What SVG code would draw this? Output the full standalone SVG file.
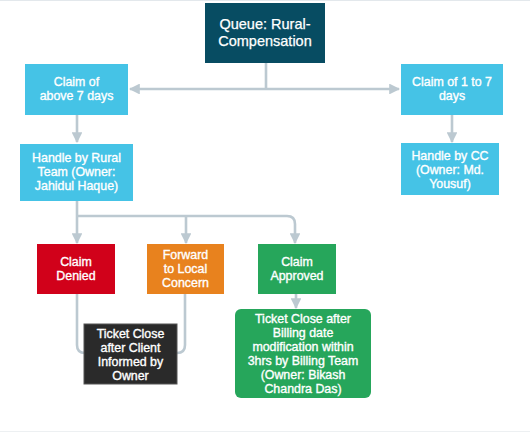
<svg xmlns="http://www.w3.org/2000/svg" width="530" height="433" viewBox="0 0 530 433">
<style>
.t{font-family:"Liberation Sans",Arial,sans-serif;font-size:12.4px;fill:#fff;stroke:#fff;stroke-width:0.35;text-anchor:middle}
.c{fill:none;stroke:#BCC9D1;stroke-width:2.6}
.cyan{fill:#45C3E6}
</style>
<defs>
<marker id="ah" viewBox="0 0 10 10" refX="9" refY="5" markerWidth="4.2" markerHeight="4.2" orient="auto" markerUnits="strokeWidth">
<path d="M0,0 L10,5 L0,10 z" fill="#BCC9D1"/>
</marker>
</defs>
<rect width="530" height="433" fill="#fff"/>
<line x1="0" y1="0.5" x2="530" y2="0.5" stroke="#E3E8EC"/>
<line x1="0" y1="431.5" x2="530" y2="431.5" stroke="#EDF0F2"/>
<g id="connectors">
<path class="c" d="M266,63 V89"/>
<path class="c" d="M266,89 H130" marker-end="url(#ah)"/>
<path class="c" d="M266,89 H399" marker-end="url(#ah)"/>
<path class="c" d="M77,115 V142" marker-end="url(#ah)"/>
<path class="c" d="M452,115 V142" marker-end="url(#ah)"/>
<path class="c" d="M77,201 V243" marker-end="url(#ah)"/>
<path class="c" d="M77,216 H287 Q295,216 295,224 V243" marker-end="url(#ah)"/>
<path class="c" d="M186,216 V243" marker-end="url(#ah)"/>
<path class="c" d="M77,294 V345 Q77,353 85,353"/>
<path class="c" d="M185,294 V345 Q185,353 177,353"/>
<path class="c" d="M296,294 V308" marker-end="url(#ah)"/>
</g>
<g id="queue">
<rect x="205" y="3" width="120" height="60" fill="#074C62"/>
<text class="t" style="font-size:14.5px;stroke-width:0.25"><tspan x="265" y="29">Queue: Rural-</tspan><tspan x="265" y="46">Compensation</tspan></text>
</g>
<g id="claim-above">
<rect class="cyan" x="25" y="64" width="103" height="51"/>
<text class="t"><tspan x="76.5" y="86">Claim of</tspan><tspan x="76.5" y="100">above 7 days</tspan></text>
</g>
<g id="claim-1-7">
<rect class="cyan" x="401" y="64" width="102" height="51"/>
<text class="t"><tspan x="452" y="86">Claim of 1 to 7</tspan><tspan x="452" y="100">days</tspan></text>
</g>
<g id="handle-rural">
<rect class="cyan" x="20" y="144" width="113" height="57"/>
<text class="t"><tspan x="76.5" y="162">Handle by Rural</tspan><tspan x="76.5" y="176">Team (Owner:</tspan><tspan x="76.5" y="190">Jahidul Haque)</tspan></text>
</g>
<g id="handle-cc">
<rect class="cyan" x="401" y="143" width="98" height="52"/>
<text class="t"><tspan x="450" y="160">Handle by CC</tspan><tspan x="450" y="174">(Owner: Md.</tspan><tspan x="450" y="188">Yousuf)</tspan></text>
</g>
<g id="denied">
<rect x="37" y="244" width="78" height="50" fill="#D1011A"/>
<text class="t"><tspan x="76" y="266">Claim</tspan><tspan x="76" y="280">Denied</tspan></text>
</g>
<g id="forward">
<rect x="147" y="244" width="77" height="50" fill="#E8821E"/>
<text class="t"><tspan x="185.5" y="259">Forward</tspan><tspan x="185.5" y="273">to Local</tspan><tspan x="185.5" y="287">Concern</tspan></text>
</g>
<g id="approved">
<rect x="258" y="244" width="78" height="50" fill="#26A65B"/>
<text class="t"><tspan x="297" y="266">Claim</tspan><tspan x="297" y="280">Approved</tspan></text>
</g>
<g id="ticket-client">
<rect x="84" y="324" width="93" height="60" fill="#2A2A2A" stroke="#555" stroke-width="1"/>
<text class="t"><tspan x="130.5" y="338">Ticket Close</tspan><tspan x="130.5" y="352">after Client</tspan><tspan x="130.5" y="366">Informed by</tspan><tspan x="130.5" y="380">Owner</tspan></text>
</g>
<g id="ticket-billing">
<rect x="235" y="309" width="136" height="89" rx="6" fill="#26A65B"/>
<text class="t"><tspan x="303" y="323">Ticket Close after</tspan><tspan x="303" y="337">Billing date</tspan><tspan x="303" y="351">modification within</tspan><tspan x="303" y="365">3hrs by Billing Team</tspan><tspan x="303" y="379">(Owner: Bikash</tspan><tspan x="303" y="393">Chandra Das)</tspan></text>
</g>
</svg>
